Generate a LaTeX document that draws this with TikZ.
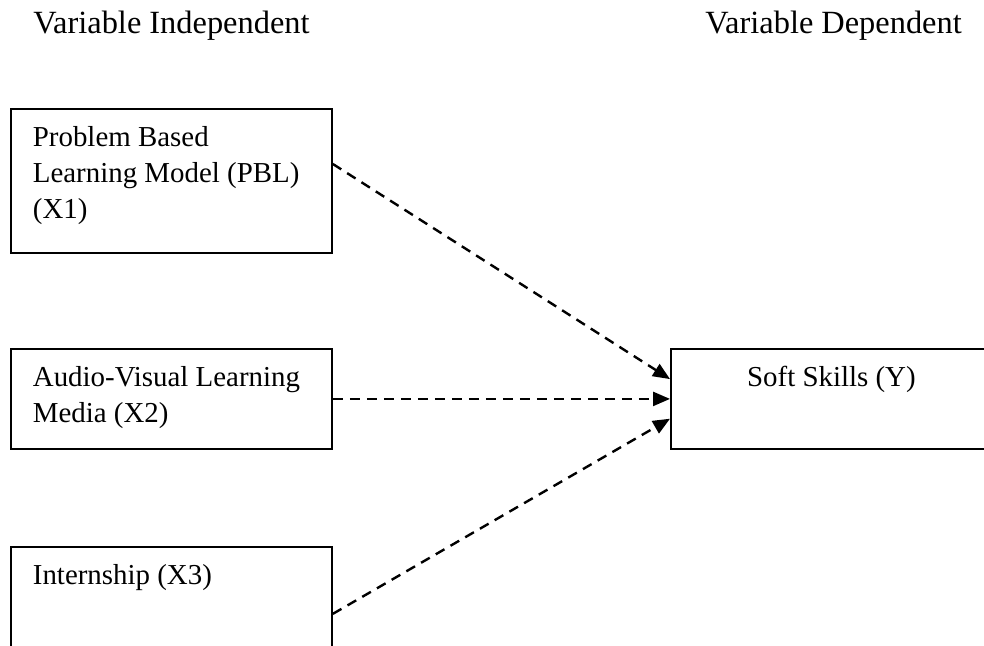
\documentclass[tikz,border=0pt]{standalone}
\usepackage{fontspec}
\setmainfont{Liberation Serif}
\usetikzlibrary{arrows.meta}

\newcommand{\vartext}[3][\raggedright]{\begin{minipage}[c][#2][t]{138.5pt}#1\strut #3\end{minipage}}

\begin{document}
\begin{tikzpicture}[
    x=0.5pt, y=-0.5pt,
    every node/.style={font=\fontsize{14.45pt}{18pt}\selectfont},
    var/.style={rectangle, draw=black, line width=0.9pt, inner xsep=11pt, inner ysep=6pt, anchor=north west},
    head/.style={anchor=base west, inner sep=0pt, font=\fontsize{16.2pt}{19pt}\selectfont},
    arr/.style={-{Triangle[length=8.5pt, width=7pt]}, line width=1.2pt, dash pattern=on 5pt off 3.5pt}
]
    \useasboundingbox (0,0) rectangle (984,645);
    \clip (0,0) rectangle (984,645);

    % Headings
    \node[head] (indep) at (33,33) {Variable Independent};
    \node[head] (dep) at (705,33) {Variable Dependent};

    % Independent variables
    \node[var] (pbl) at (10,108) {\vartext{60pt}{Problem Based\\Learning Model (PBL)\\(X1)}};
    \node[var] (media) at (10,348) {\vartext{38pt}{Audio-Visual Learning\\Media (X2)}};
    \node[var] (intern) at (10,546) {\vartext{38pt}{Internship (X3)}};

    % Dependent variable
    \node[var] (skills) at (670,348) {\vartext[\centering]{38pt}{Soft Skills (Y)}};

    % Connectors
    \draw[arr] (pbl.6) -- (skills.173.5);
    \draw[arr] (media.east) -- (skills.west);
    \draw[arr] (intern.-6) -- (skills.187.5);

\end{tikzpicture}
\end{document}
